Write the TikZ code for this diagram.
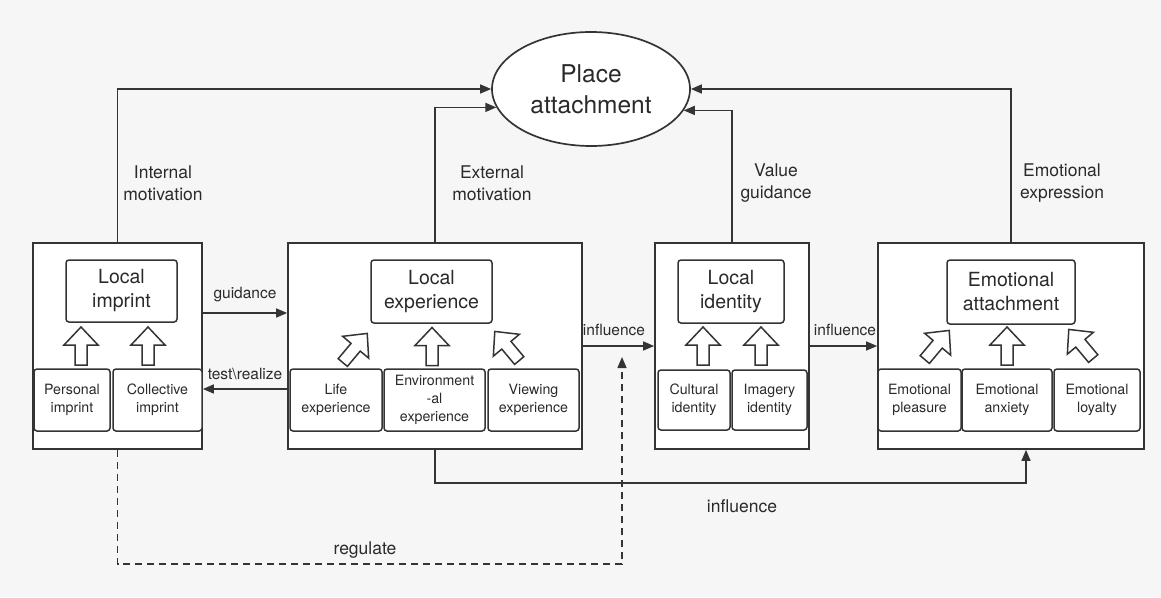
\documentclass[tikz,border=0pt]{standalone}
\usepackage{fontspec}
\setmainfont{TeX Gyre Heros}
\usetikzlibrary{arrows.meta,shapes.geometric}
\definecolor{lc}{RGB}{52,52,52}
\definecolor{tc}{RGB}{42,42,42}
\definecolor{bg}{RGB}{246,246,246}
\tikzset{
  outer/.style={draw=lc, line width=1.7pt, fill=white, inner sep=0pt},
  title/.style={draw=lc, line width=1.5pt, rounded corners=3pt, fill=white, inner sep=0pt,
    align=center, text=tc, font=\fontsize{19.5}{24}\selectfont},
  sub/.style={draw=lc, line width=1.5pt, rounded corners=3pt, fill=white, inner sep=0pt,
    align=center, text=tc, font=\fontsize{14.2}{18.3}\selectfont, minimum height=62pt},
  lab/.style={align=center, text=tc, font=\fontsize{17.5}{22}\selectfont, inner sep=0pt},
  small/.style={align=center, text=tc, font=\fontsize{15.5}{19}\selectfont, inner sep=0pt},
  conn/.style={draw=lc, line width=1.5pt, -{Triangle[length=11pt,width=9pt]}},
  harrow/.style={draw=lc, line width=1.5pt, fill=white, line join=miter},
  hollow/.pic={\draw[harrow] (0,-19) -- (17,-1) -- (6,-1) -- (6,19) -- (-6,19) -- (-6,-1) -- (-17,-1) -- cycle;}
}
\begin{document}
\begin{tikzpicture}[x=1pt, y=-1pt]
% canvas
\fill[bg] (0,0) rectangle (1161,597);
\useasboundingbox (0,0) rectangle (1161,597);

% central concept
\node[draw=lc, line width=1.7pt, fill=white, ellipse, minimum width=198pt, minimum height=114pt,
  inner sep=0pt, align=center, text=tc, font=\fontsize{24.5}{31}\selectfont] (pa) at (591,89)
  {Place\\attachment};

% four groups
\node[outer, minimum width=169pt, minimum height=206pt] (b1) at (117.5,346) {};
\node[outer, minimum width=294pt, minimum height=206pt] (b2) at (435,346) {};
\node[outer, minimum width=154pt, minimum height=206pt] (b3) at (732,346) {};
\node[outer, minimum width=266pt, minimum height=206pt] (b4) at (1011,346) {};

% group titles
\node[title, minimum width=111pt, minimum height=62pt] (t1) at (121.5,291) {Local\\imprint};
\node[title, minimum width=121pt, minimum height=63pt] (t2) at (431.5,291.5) {Local\\experience};
\node[title, minimum width=106pt, minimum height=63pt] (t3) at (731,291.5) {Local\\identity};
\node[title, minimum width=128pt, minimum height=64pt] (t4) at (1011,292) {Emotional\\attachment};

% components
\node[sub, minimum width=76pt] (s11) at (72,400) {Personal\\imprint};
\node[sub, minimum width=89pt] (s12) at (157.5,400) {Collective\\imprint};
\node[sub, minimum width=92pt] (s21) at (336,400) {Life\\experience};
\node[sub, minimum width=101pt] (s22) at (434.5,400) {Environment\\-al\\experience};
\node[sub, minimum width=91pt] (s23) at (533.5,400) {Viewing\\experience};
\node[sub, minimum width=72pt, minimum height=60pt] (s31) at (694,400) {Cultural\\identity};
\node[sub, minimum width=75pt, minimum height=60pt] (s32) at (769.5,400) {Imagery\\identity};
\node[sub, minimum width=83pt] (s41) at (919.5,400) {Emotional\\pleasure};
\node[sub, minimum width=90pt] (s42) at (1007,400) {Emotional\\anxiety};
\node[sub, minimum width=86pt] (s43) at (1097,400) {Emotional\\loyalty};

% hollow block arrows
\pic at (81,346) {hollow};
\pic at (148,346) {hollow};
\pic[rotate=-40] at (355,348) {hollow};
\pic at (432,346.5) {hollow};
\pic[rotate=40] at (507,346) {hollow};
\pic at (703,346) {hollow};
\pic at (761,346) {hollow};
\pic[rotate=-40] at (937,345) {hollow};
\pic at (1007,346) {hollow};
\pic[rotate=40] at (1081,344) {hollow};

% links up to the central concept
\draw[conn] (b1.north) |- (pa.west);
\draw[conn] (b2.north) |- (pa.191);
\draw[conn] (b3.north) |- (pa.-13.5);
\draw[conn] (b4.north) |- (pa.east);
\node[lab] (l1) at (163,183) {Internal\\motivation};
\node[lab] (l2) at (492,183) {External\\motivation};
\node[lab] (l3) at (776,183) {Value\\guidance};
\node[lab] (l4) at (1062,183) {Emotional\\expression};

% links between groups
\coordinate (gy) at (0,313);
\coordinate (ty) at (0,389);
\draw[conn] (b1.east |- gy) -- (b2.west |- gy);
\draw[conn] (b2.west |- ty) -- (b1.east |- ty);
\draw[conn] (b2.east) -- (b3.west);
\draw[conn] (b3.east) -- (b4.west);
\node[small] (lg) at (245,295) {guidance};
\node[small] (lt) at (245,374) {test\textbackslash realize};
\node[small] (li1) at (614,330) {influence};
\node[small] (li2) at (845,330) {influence};

% links below the groups
\coordinate (inflturn) at (1026,483);
\draw[conn] (b2.south) |- (inflturn) -- (inflturn |- b4.south);
\node[lab] (li3) at (742,506) {influence};
\coordinate (regturn) at (622,564);
\coordinate (regend) at (622,357);
\draw[conn, dash pattern=on 7pt off 5pt] (b1.south) |- (regturn) -- (regend);
\node[lab] (lr) at (365,550) {regulate};
\end{tikzpicture}
\end{document}
